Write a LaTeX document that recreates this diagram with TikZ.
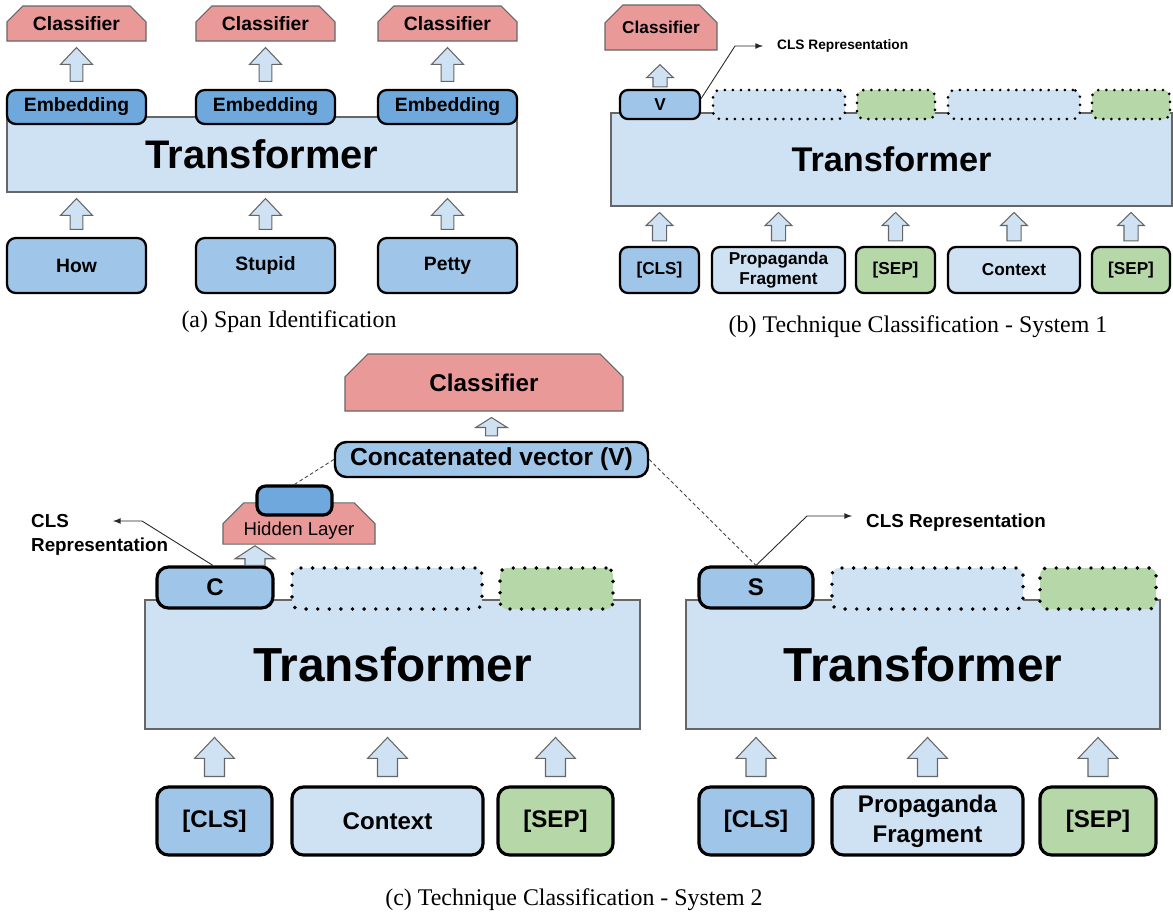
\documentclass[tikz,border=0pt]{standalone}
\usepackage{fontspec}
\setmainfont{Liberation Serif}
\setsansfont{Liberation Sans}
\usepackage{tikz}
\usetikzlibrary{shapes.misc,calc}

\definecolor{lightblu}{HTML}{CFE2F3}
\definecolor{midblu}{HTML}{9FC5E8}
\definecolor{darkblu}{HTML}{6FA8DC}
\definecolor{sepgreen}{HTML}{B6D7A8}
\definecolor{clspink}{HTML}{EA9999}
\definecolor{edgegray}{HTML}{666666}

\newcommand{\fs}[2]{\fontsize{#1}{#2}\selectfont}
% block arrow from the top of #2 up to the bottom of #3, moved sideways by #1
\newcommand{\blkarrow}[3][0pt]{%
	\draw[blkarr] let \p1=($(#2.north)+(#1,0)$), \p2=(#3.south) in
		(\x1-\asw,\y1+\agb) -- (\x1-\asw,\y2-\agt-\ahl) -- (\x1-\ahw,\y2-\agt-\ahl) -- (\x1,\y2-\agt)
		-- (\x1+\ahw,\y2-\agt-\ahl) -- (\x1+\asw,\y2-\agt-\ahl) -- (\x1+\asw,\y1+\agb) -- cycle;}

\begin{document}
\begin{tikzpicture}[x=0.02cm, y=-0.02cm,
		sz/.style 2 args={minimum width=#1*0.02cm, minimum height=#2*0.02cm},
		trbox/.style={draw=edgegray, fill=lightblu, line width=0.6pt, inner sep=0pt},
		clsbox/.style={chamfered rectangle, chamfered rectangle corners={north west,north east},
			draw=edgegray, fill=clspink, line width=0.6pt, inner sep=0pt},
		tok/.style={draw=black, line width=1.3pt, rounded corners=5pt, inner sep=0pt, align=center,
			font=\sffamily\bfseries\fs{11}{13}},
		bigtok/.style={tok, line width=1.8pt, rounded corners=6.5pt, font=\sffamily\bfseries\fs{13.7}{17}},
		smtok/.style={tok, rounded corners=4.5pt, font=\sffamily\bfseries\fs{9.8}{11.3}},
		dotbox/.style={draw=black, rounded corners=4pt, line width=1.7pt, line cap=round,
			dash pattern=on 0pt off 4.6pt, inner sep=0pt},
		dotbig/.style={dotbox, line width=2.2pt, dash pattern=on 0pt off 6.6pt},
		blkarr/.style={draw=edgegray, fill=lightblu, line width=0.6pt, line join=miter},
		callout/.style={draw=black!85, line width=0.5pt, -latex},
		dashline/.style={draw=black!75, line width=0.5pt, dash pattern=on 2pt off 1.5pt}
	]
	\useasboundingbox (0,0) rectangle (1173,917);

	\node[trbox, sz={510}{75}, font=\sffamily\bfseries\fs{22.7}{26}] (trA) at (262,154.5) {Transformer};
	\def\ahw{9.1pt}\def\asw{3.6pt}\def\ahl{9.6pt}\def\agb{4.3pt}\def\agt{3.4pt}
	\foreach \i/\cx/\word in {1/76.5/How, 2/265.5/Stupid, 3/447.5/Petty} {
		\node[clsbox, sz={139}{35}, chamfered rectangle xsep=4.5pt, chamfered rectangle ysep=5pt,
			font=\sffamily\bfseries\fs{11}{13}] (clsA\i) at (\cx,23.5) {Classifier};
		\node[tok, fill=darkblu, sz={139}{34}] (embA\i) at (\cx,107) {Embedding};
		\node[tok, fill=midblu, sz={139}{55}] (inA\i) at (\cx,265.5) {\word};
		\blkarrow{embA\i}{clsA\i}
		\blkarrow{inA\i}{trA}
	}
	\node[font=\fs{13.6}{16}] (capA) at (289,322) {(a) Span Identification};

	\node[trbox, sz={561}{93}, font=\sffamily\bfseries\fs{19.5}{22}] (trB) at (891.5,159.5) {Transformer};
	\node[clsbox, sz={112}{45}, chamfered rectangle xsep=7pt, chamfered rectangle ysep=6.5pt,
		font=\sffamily\bfseries\fs{9.8}{11}] (clsB) at (661,27.5) {Classifier};
	\node[smtok, fill=midblu, sz={80}{29}] (vB) at (660,104.5) {V};
	\node[dotbox, fill=lightblu, sz={132}{29}] (dB1) at (779,104.5) {};
	\node[dotbox, fill=sepgreen, sz={78}{29}] (dB2) at (896,104.5) {};
	\node[dotbox, fill=lightblu, sz={132}{29}] (dB3) at (1014,104.5) {};
	\node[dotbox, fill=sepgreen, sz={78}{29}] (dB4) at (1131,104.5) {};
	\node[smtok, fill=midblu, sz={79}{46}] (inB1) at (659.5,270) {[CLS]};
	\node[smtok, fill=lightblu, sz={133}{46}] (inB2) at (778.5,270) {Propaganda\\Fragment};
	\node[smtok, fill=sepgreen, sz={79}{46}] (inB3) at (895.5,270) {[SEP]};
	\node[smtok, fill=lightblu, sz={132}{46}] (inB4) at (1014,270) {Context};
	\node[smtok, fill=sepgreen, sz={78}{46}] (inB5) at (1131,270) {[SEP]};
	\def\ahw{7.6pt}\def\asw{4pt}\def\ahl{7.4pt}\def\agb{1.1pt}\def\agt{8pt}
	\blkarrow{vB}{clsB}
	\def\agb{2.8pt}\def\agt{3.4pt}
	\foreach \i in {1,...,5} {\blkarrow{inB\i}{trB}}
	\node[anchor=west, font=\sffamily\bfseries\fs{7.8}{9}] (repB) at (771,46) {CLS Representation};
	\coordinate (kneeB) at (735,46);
	\draw[callout] ($(vB.east)+(0,-6)$) -- (kneeB) -- ($(repB.west)+(-8,0)$);
	\node[font=\fs{13.6}{16}] (capB) at (918,327) {(b) Technique Classification - System 1};

	\node[trbox, sz={495}{129}, font=\sffamily\bfseries\fs{27.2}{31}] (trC1) at (392.5,664.5) {Transformer};
	\node[trbox, sz={474}{129}, font=\sffamily\bfseries\fs{27.2}{31}] (trC2) at (923,664.5) {Transformer};
	\node[clsbox, sz={278}{57}, chamfered rectangle xsep=9pt, chamfered rectangle ysep=8pt,
		font=\sffamily\bfseries\fs{13.8}{16}] (clsC) at (484,382.5) {Classifier};
	\node[bigtok, fill=midblu, sz={313}{35}, line width=1.4pt, font=\sffamily\bfseries\fs{14}{16}] (vecC) at (491.5,459.5) {Concatenated vector (V)};
	\node[clsbox, sz={152}{29}, chamfered rectangle xsep=9.6pt, chamfered rectangle ysep=6.8pt,
		font=\sffamily\fs{10.6}{12}] (hlC) at (299,523.5) {\raisebox{-4pt}[7.7pt][2.2pt]{Hidden Layer}};
	\node[bigtok, fill=darkblu, sz={75}{29}, rounded corners=5pt] (hidC) at (294.5,500.5) {};
	\node[bigtok, fill=midblu, sz={116}{41}] (cC) at (215,587.5) {C};
	\node[dotbig, fill=lightblu, sz={190}{41}] (dC1) at (387,588.5) {};
	\node[dotbig, fill=sepgreen, sz={113}{41}] (dC2) at (556.5,588.5) {};
	\node[bigtok, fill=midblu, sz={114}{41}] (sC) at (756,587.5) {S};
	\node[dotbig, fill=lightblu, sz={191}{41}] (dC3) at (927.5,588.5) {};
	\node[dotbig, fill=sepgreen, sz={116}{41}] (dC4) at (1098,588.5) {};
	\node[bigtok, fill=midblu, sz={115}{68}] (inC1) at (214.5,821) {[CLS]};
	\node[bigtok, fill=lightblu, sz={191}{68}] (inC2) at (387.5,821) {Context};
	\node[bigtok, fill=sepgreen, sz={115}{68}] (inC3) at (555.5,821) {[SEP]};
	\node[bigtok, fill=midblu, sz={114}{68}] (inC4) at (756,821) {[CLS]};
	\node[bigtok, fill=lightblu, sz={191}{68}] (inC5) at (927.5,821) {Propaganda\\Fragment};
	\node[bigtok, fill=sepgreen, sz={116}{68}] (inC6) at (1098,821) {[SEP]};
	\def\ahw{11.3pt}\def\asw{5.7pt}\def\ahl{11.9pt}\def\agb{5.1pt}\def\agt{4.5pt}
	\foreach \i in {1,2,3} {\blkarrow{inC\i}{trC1}}
	\foreach \i in {4,5,6} {\blkarrow{inC\i}{trC2}}
	\def\ahl{7.4pt}\def\agb{0pt}\def\agt{0.6pt}
	\blkarrow[40]{cC}{hlC}
	\def\ahw{9pt}\def\asw{3.4pt}\def\ahl{5.7pt}\def\agb{2.8pt}\def\agt{3.4pt}
	\blkarrow{vecC}{clsC}
	\draw[dashline] (vecC.west) -- (hidC.north);
	\draw[dashline] (vecC.east) -- (sC.north);
	\node[anchor=west, align=left, font=\sffamily\bfseries\fs{10.7}{13.6}] (repC1) at (25,535) {CLS\\Representation};
	\coordinate (kneeC1) at (142,521);
	\coordinate (tipC1) at (113,521);
	\draw[callout] ($(cC.north)+(-2,0)$) -- (kneeC1) -- (tipC1);
	\node[anchor=west, font=\sffamily\bfseries\fs{10.7}{13}] (repC2) at (860,523) {CLS Representation};
	\coordinate (kneeC2) at (807,516);
	\draw[callout] (sC.north) -- (kneeC2) -- ($(repC2.west)+(-8,-7)$);
	\node[font=\fs{13.6}{16}] (capC) at (574,900) {(c) Technique Classification - System 2};
\end{tikzpicture}
\end{document}
